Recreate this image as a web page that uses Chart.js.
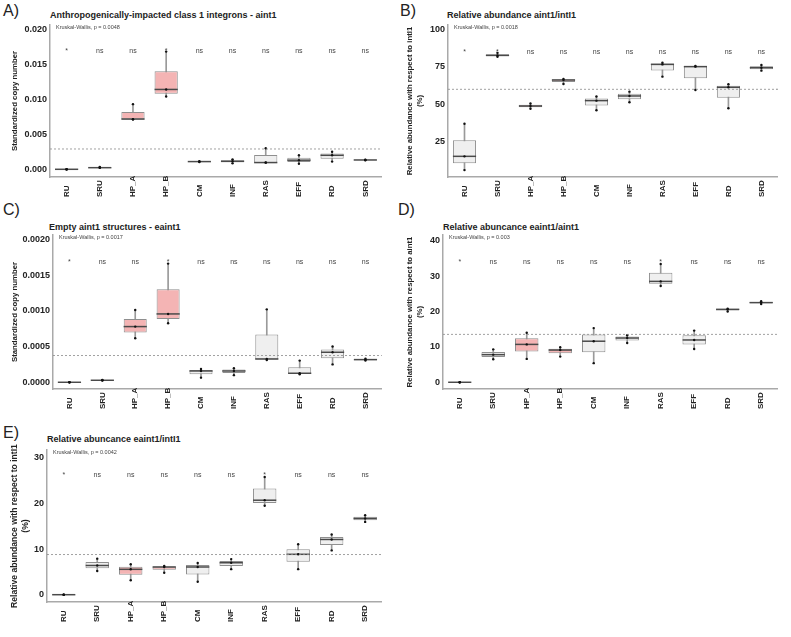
<!DOCTYPE html>
<html>
<head>
<meta charset="utf-8">
<script src="https://cdn.jsdelivr.net/npm/chart.js@4.4.1/dist/chart.umd.min.js"></script>
<style>
  body { margin: 0; background: #fff; width: 791px; height: 637px; position: relative; overflow: hidden; font-family: "Liberation Sans", Arial, sans-serif; }
  canvas { position: absolute; }
  .letter { position: absolute; font-size: 16px; line-height: 16px; color: #222; }
  .ttl { position: absolute; font-size: 9px; line-height: 10px; font-weight: bold; color: #222; white-space: nowrap; }
</style>
</head>
<body>
<div class="letter" style="left:3px;top:3px">A)</div>
<div class="letter" style="left:400px;top:3px">B)</div>
<div class="letter" style="left:3px;top:202px">C)</div>
<div class="letter" style="left:398px;top:202px">D)</div>
<div class="letter" style="left:3px;top:425px">E)</div>
<div class="ttl" style="left:50px;top:10px">Anthropogenically-impacted class 1 integrons - aint1</div>
<div class="ttl" style="left:447px;top:10px">Relative abundance aint1/intI1</div>
<div class="ttl" style="left:49px;top:222px">Empty aint1 structures - eaint1</div>
<div class="ttl" style="left:443px;top:222px">Relative abuncance eaint1/aint1</div>
<div class="ttl" style="left:47px;top:434px">Relative abuncance eaint1/intI1</div>
<canvas id="chartA" width="395" height="210" style="left:0;top:0"></canvas>
<canvas id="chartB" width="396" height="210" style="left:395px;top:0"></canvas>
<canvas id="chartC" width="395" height="210" style="left:0;top:210px"></canvas>
<canvas id="chartD" width="396" height="210" style="left:395px;top:210px"></canvas>
<canvas id="chartE" width="395" height="217" style="left:0;top:420px"></canvas>
<script>
const groups = ["RU", "SRU", "HP_A", "HP_B", "CM", "INF", "RAS", "EFF", "RD", "SRD"];
const pinkGroups = ["HP_A", "HP_B"];

// ================= A: aint1 copy number =================
const aLow  = [0.00008, 0.00031, 0.0072, 0.0105, 0.00115, 0.00095, 0.00105, 0.0009, 0.0012, 0.0014];
const aQ1   = [0.00009, 0.00032, 0.00724, 0.0109, 0.00117, 0.0011, 0.00105, 0.00115, 0.0016, 0.00141];
const aMed  = [0.0001, 0.00033, 0.00727, 0.0115, 0.0012, 0.00124, 0.00106, 0.0014, 0.0021, 0.00143];
const aQ3   = [0.00011, 0.00039, 0.00829, 0.0141, 0.00123, 0.00138, 0.00214, 0.00175, 0.00235, 0.00146];
const aHigh = [0.00012, 0.00045, 0.0094, 0.0169, 0.00125, 0.00152, 0.0031, 0.0021, 0.0026, 0.00148];
const aPoints = [[0.00008, 0.0001, 0.00012], [0.00031, 0.00033, 0.00045], [0.0072, 0.00726, 0.0094],
  [0.0105, 0.0115, 0.0169], [0.00115, 0.0012, 0.00125], [0.00095, 0.00124, 0.00152],
  [0.00105, 0.00108, 0.0031], [0.0009, 0.0014, 0.0021], [0.0012, 0.0021, 0.0026], [0.0014, 0.00143, 0.00147]];
const aSignif = ["*", "ns", "ns", "*", "ns", "ns", "ns", "ns", "ns", "ns"];
const aTicks = [0, 0.005, 0.010, 0.015, 0.020];
const aMean = 0.0030;

// ================= B: aint1 / intI1 =================
const bLow  = [6, 81.7, 47, 63.5, 46, 51.3, 68.4, 59.5, 47.3, 72.4];
const bQ1   = [10.5, 82.2, 48, 64.85, 49.2, 53.4, 72.5, 67.3, 54.3, 73.4];
const bMed  = [15.2, 82.6, 48.8, 66.2, 52.4, 55.5, 76.6, 75.1, 61.3, 74.4];
const bQ3   = [26, 83.3, 49.7, 66.5, 53.8, 57, 77.2, 75.3, 62.3, 75.3];
const bHigh = [37, 84.3, 50.5, 66.8, 55.2, 58.4, 77.7, 75.5, 63.3, 76.2];
const bPoints = [[6, 15.2, 37], [81.7, 82.6, 84.3], [47, 48.8, 50.5], [63.5, 66.2, 66.8], [46, 52.4, 55.2],
  [51.3, 55.5, 58.4], [68.4, 76.6, 77.7], [59.5, 75.1, 75.5], [47.3, 61.3, 63.3], [72.4, 74.4, 76.2]];
const bSignif = ["*", "*", "ns", "ns", "ns", "ns", "ns", "ns", "ns", "ns"];
const bTicks = [25, 50, 75, 100];
const bMean = 60;

// ================= C: eaint1 copy number =================
const cLow  = [0, 0.000025, 0.000615, 0.000825, 0.000065, 0.0001, 0.000312, 0.000112, 0.00025, 0.000303];
const cQ1   = [0, 0.000026, 0.000695, 0.000886, 0.000112, 0.000129, 0.000319, 0.000119, 0.000336, 0.000308];
const cMed  = [0, 0.000028, 0.000779, 0.000956, 0.000158, 0.000158, 0.000326, 0.000126, 0.00042, 0.000317];
const cQ3   = [0.000003, 0.00003, 0.000886, 0.0013, 0.000172, 0.000177, 0.00067, 0.00021, 0.00046, 0.000326];
const cHigh = [0.000003, 0.000032, 0.00101, 0.00166, 0.000186, 0.000196, 0.00102, 0.000303, 0.0005, 0.00033];
const cPoints = [[0, 0, 0], [0.000025, 0.000028, 0.000032], [0.000615, 0.000779, 0.00101], [0.000825, 0.000956, 0.00166],
  [0.000065, 0.000158, 0.000186], [0.0001, 0.000158, 0.000196], [0.000312, 0.000326, 0.00102],
  [0.000112, 0.000126, 0.000303], [0.00025, 0.00042, 0.0005], [0.000303, 0.000317, 0.00033]];
const cSignif = ["*", "ns", "ns", "*", "ns", "ns", "ns", "ns", "ns", "ns"];
const cTicks = [0, 0.0005, 0.0010, 0.0015, 0.0020];
const cMean = 0.000373;

// ================= D: eaint1 / aint1 =================
const dLow  = [0, 6.5, 6.6, 7.25, 5.4, 11.1, 27.2, 9.4, 20.0, 22.1];
const dQ1   = [0, 7.15, 8.66, 8.2, 8.5, 11.8, 27.85, 10.7, 20.3, 22.3];
const dMed  = [0, 7.8, 10.7, 9.1, 11.6, 12.5, 28.5, 11.95, 20.6, 22.5];
const dQ3   = [0.05, 8.55, 12.4, 9.5, 13.5, 12.9, 30.95, 13.3, 20.7, 22.7];
const dHigh = [0.05, 9.3, 14.0, 9.9, 15.3, 13.3, 33.4, 14.6, 20.8, 22.9];
const dPoints = [[0, 0, 0], [6.5, 7.8, 9.3], [6.6, 10.7, 14.0], [7.25, 9.1, 9.9], [5.4, 11.6, 15.3],
  [11.1, 12.5, 13.3], [27.2, 28.5, 33.4], [9.4, 11.95, 14.6], [20.0, 20.6, 20.8], [22.1, 22.5, 22.9]];
const dSignif = ["*", "ns", "ns", "ns", "ns", "ns", "*", "ns", "ns", "ns"];
const dTicks = [0, 10, 20, 30, 40];
const dMean = 13.55;

// ================= E: eaint1 / intI1 =================
const eLow  = [0, 5.2, 3.15, 4.8, 2.85, 5.6, 19.5, 5.6, 9.7, 15.95];
const eQ1   = [0, 5.8, 4.35, 5.45, 4.45, 6.3, 20.1, 7.2, 10.9, 16.3];
const eMed  = [0, 6.4, 5.56, 6.07, 6.07, 7.0, 20.7, 8.85, 12.1, 16.7];
const eQ3   = [0.04, 7.15, 6.1, 6.2, 6.5, 7.4, 23.25, 9.95, 12.65, 17.05];
const eHigh = [0.04, 7.9, 6.66, 6.3, 6.95, 7.8, 25.8, 11.05, 13.2, 17.4];
const ePoints = [[0, 0, 0], [5.2, 6.4, 7.9], [3.15, 5.56, 6.66], [4.8, 6.07, 6.3], [2.85, 6.07, 6.95],
  [5.6, 7.0, 7.8], [19.5, 20.7, 25.8], [5.6, 8.85, 11.05], [9.7, 12.1, 13.2], [15.95, 16.7, 17.4]];
const eSignif = ["*", "ns", "ns", "ns", "ns", "ns", "*", "ns", "ns", "ns"];
const eTicks = [0, 10, 20, 30];
const eMean = 8.78;

// ================= STYLE =================
const FONT = "'Liberation Sans', Arial, sans-serif";
const PINK = "#f4b4b4";
const GREY = "#efefef";
const AXIS = "#a9a9a9";
const INK = "#222";

// mean line, significance labels, test text and rotated category labels
const extras = {
  id: "extras",
  afterDatasetsDraw(chart, args, o) {
    const { ctx, chartArea } = chart;
    const x = chart.scales.x, y = chart.scales.y;
    ctx.save();

    const ym = y.getPixelForValue(o.mean);
    ctx.strokeStyle = "#8a8a8a";
    ctx.lineWidth = 0.8;
    ctx.setLineDash([2, 2]);
    ctx.beginPath();
    ctx.moveTo(chartArea.left, ym);
    ctx.lineTo(chartArea.right, ym);
    ctx.stroke();
    ctx.setLineDash([]);

    ctx.fillStyle = "#444";
    ctx.font = `5.5px ${FONT}`;
    ctx.textAlign = "left";
    ctx.textBaseline = "middle";
    ctx.fillText(o.test, chartArea.left + 6, chartArea.top + 2.5);

    ctx.font = `7px ${FONT}`;
    ctx.textAlign = "center";
    const ys = y.getPixelForValue(o.sigY);
    o.signif.forEach((s, i) => {
      ctx.fillText(s, x.getPixelForTick(i), ys);
    });

    ctx.fillStyle = INK;
    ctx.font = `bold 8px ${FONT}`;
    ctx.textAlign = "left";
    groups.forEach((g, i) => {
      ctx.save();
      ctx.translate(x.getPixelForTick(i), chartArea.bottom + 20);
      ctx.rotate(-Math.PI / 2);
      ctx.fillText(g, 0, 0);
      ctx.restore();
    });
    ctx.restore();
  }
};

function boxChart(id, p) {
  const canvas = document.getElementById(id);
  const fill = groups.map(g => pinkGroups.includes(g) ? PINK : GREY);
  const pts = [];
  p.points.forEach((arr, i) => arr.forEach(v => pts.push({ x: groups[i], y: v })));
  const titleSize = p.titleSize || 7.8;
  const padLeft = p.titleCenter - titleSize * 1.25 / 2;

  new Chart(canvas, {
    type: "bar",
    data: {
      labels: groups,
      datasets: [
        { type: "line", data: pts, showLine: false, pointRadius: 1.2, pointBackgroundColor: "#111", pointBorderWidth: 0 },
        { type: "line", data: p.med, showLine: false, pointStyle: "line", pointRadius: 11.6,
          pointBorderColor: "#4a4a4a", pointBorderWidth: 1.5 },
        { data: groups.map((g, i) => [p.q1[i], p.q3[i]]), backgroundColor: fill, borderColor: "#8f8f8f",
          borderWidth: 1, borderSkipped: false, barPercentage: 0.7, categoryPercentage: 1, grouped: false },
        { data: groups.map((g, i) => [p.low[i], p.high[i]]), backgroundColor: "#9a9a9a",
          barThickness: 1, grouped: false }
      ]
    },
    options: {
      responsive: false,
      animation: false,
      events: [],
      devicePixelRatio: 1,
      layout: { padding: { left: padLeft, top: p.area.top, right: canvas.width - p.area.right, bottom: 0 } },
      plugins: {
        legend: { display: false },
        tooltip: { enabled: false },
        extras: { mean: p.mean, signif: p.signif, sigY: p.sigY, test: p.test }
      },
      scales: {
        x: {
          grid: { display: false, drawTicks: false },
          border: { color: AXIS, width: 1.5 },
          ticks: { display: false },
          afterFit: s => { s.height = canvas.height - p.area.bottom; }
        },
        y: {
          min: p.min,
          max: p.max,
          grid: { display: false, drawTicks: false },
          border: { color: AXIS, width: 1.5 },
          afterBuildTicks: s => { s.ticks = p.ticks.map(v => ({ value: v })); },
          ticks: {
            padding: 3,
            color: INK,
            font: { family: FONT, size: 9, weight: "bold" },
            callback: v => v.toFixed(p.dec)
          },
          title: {
            display: true,
            text: p.yTitle,
            padding: 0,
            color: INK,
            font: { family: FONT, size: titleSize, weight: "bold", lineHeight: 1.25 }
          },
          afterFit: s => { s.width = p.area.left - padLeft; }
        }
      }
    },
    plugins: [extras]
  });
}

// ================= INIT =================
boxChart("chartA", {
  low: aLow, q1: aQ1, med: aMed, q3: aQ3, high: aHigh, points: aPoints, signif: aSignif,
  ticks: aTicks, dec: 3, mean: aMean, sigY: 0.0170, min: -0.001, max: 0.0207,
  test: "Kruskal-Wallis, p = 0.0048", yTitle: "Standardized copy number",
  titleCenter: 15, area: { left: 50, right: 385, top: 25, bottom: 177 }
});
boxChart("chartB", {
  low: bLow, q1: bQ1, med: bMed, q3: bQ3, high: bHigh, points: bPoints, signif: bSignif,
  ticks: bTicks, dec: 0, mean: bMean, sigY: 85, min: 1.4, max: 102.9,
  test: "Kruskal-Wallis, p = 0.0018", yTitle: ["Relative abundance with respect to intI1", "(%)"],
  titleCenter: 15, area: { left: 53, right: 385, top: 25, bottom: 177 }
});
boxChart("chartC", {
  low: cLow, q1: cQ1, med: cMed, q3: cQ3, high: cHigh, points: cPoints, signif: cSignif,
  ticks: cTicks, dec: 4, mean: cMean, sigY: 0.00168, min: -0.000094, max: 0.00206,
  test: "Kruskal-Wallis, p = 0.0017", yTitle: "Standardized copy number",
  titleCenter: 15, area: { left: 53, right: 385, top: 25, bottom: 179 }
});
boxChart("chartD", {
  low: dLow, q1: dQ1, med: dMed, q3: dQ3, high: dHigh, points: dPoints, signif: dSignif,
  ticks: dTicks, dec: 0, mean: dMean, sigY: 33.9, min: -1.9, max: 41.6,
  test: "Kruskal-Wallis, p = 0.003", yTitle: ["Relative abundance with respect to aint1", "(%)"],
  titleCenter: 15, area: { left: 48, right: 385, top: 25, bottom: 179 }
});
boxChart("chartE", {
  low: eLow, q1: eQ1, med: eMed, q3: eQ3, high: eHigh, points: ePoints, signif: eSignif,
  ticks: eTicks, dec: 0, mean: eMean, sigY: 26.3, min: -1.6, max: 31.7,
  test: "Kruskal-Wallis, p = 0.0042", yTitle: ["Relative abundance with respect to intI1", "(%)"],
  titleCenter: 15, titleSize: 8.6, area: { left: 47, right: 385, top: 30, bottom: 182 }
});
</script>
</body>
</html>
